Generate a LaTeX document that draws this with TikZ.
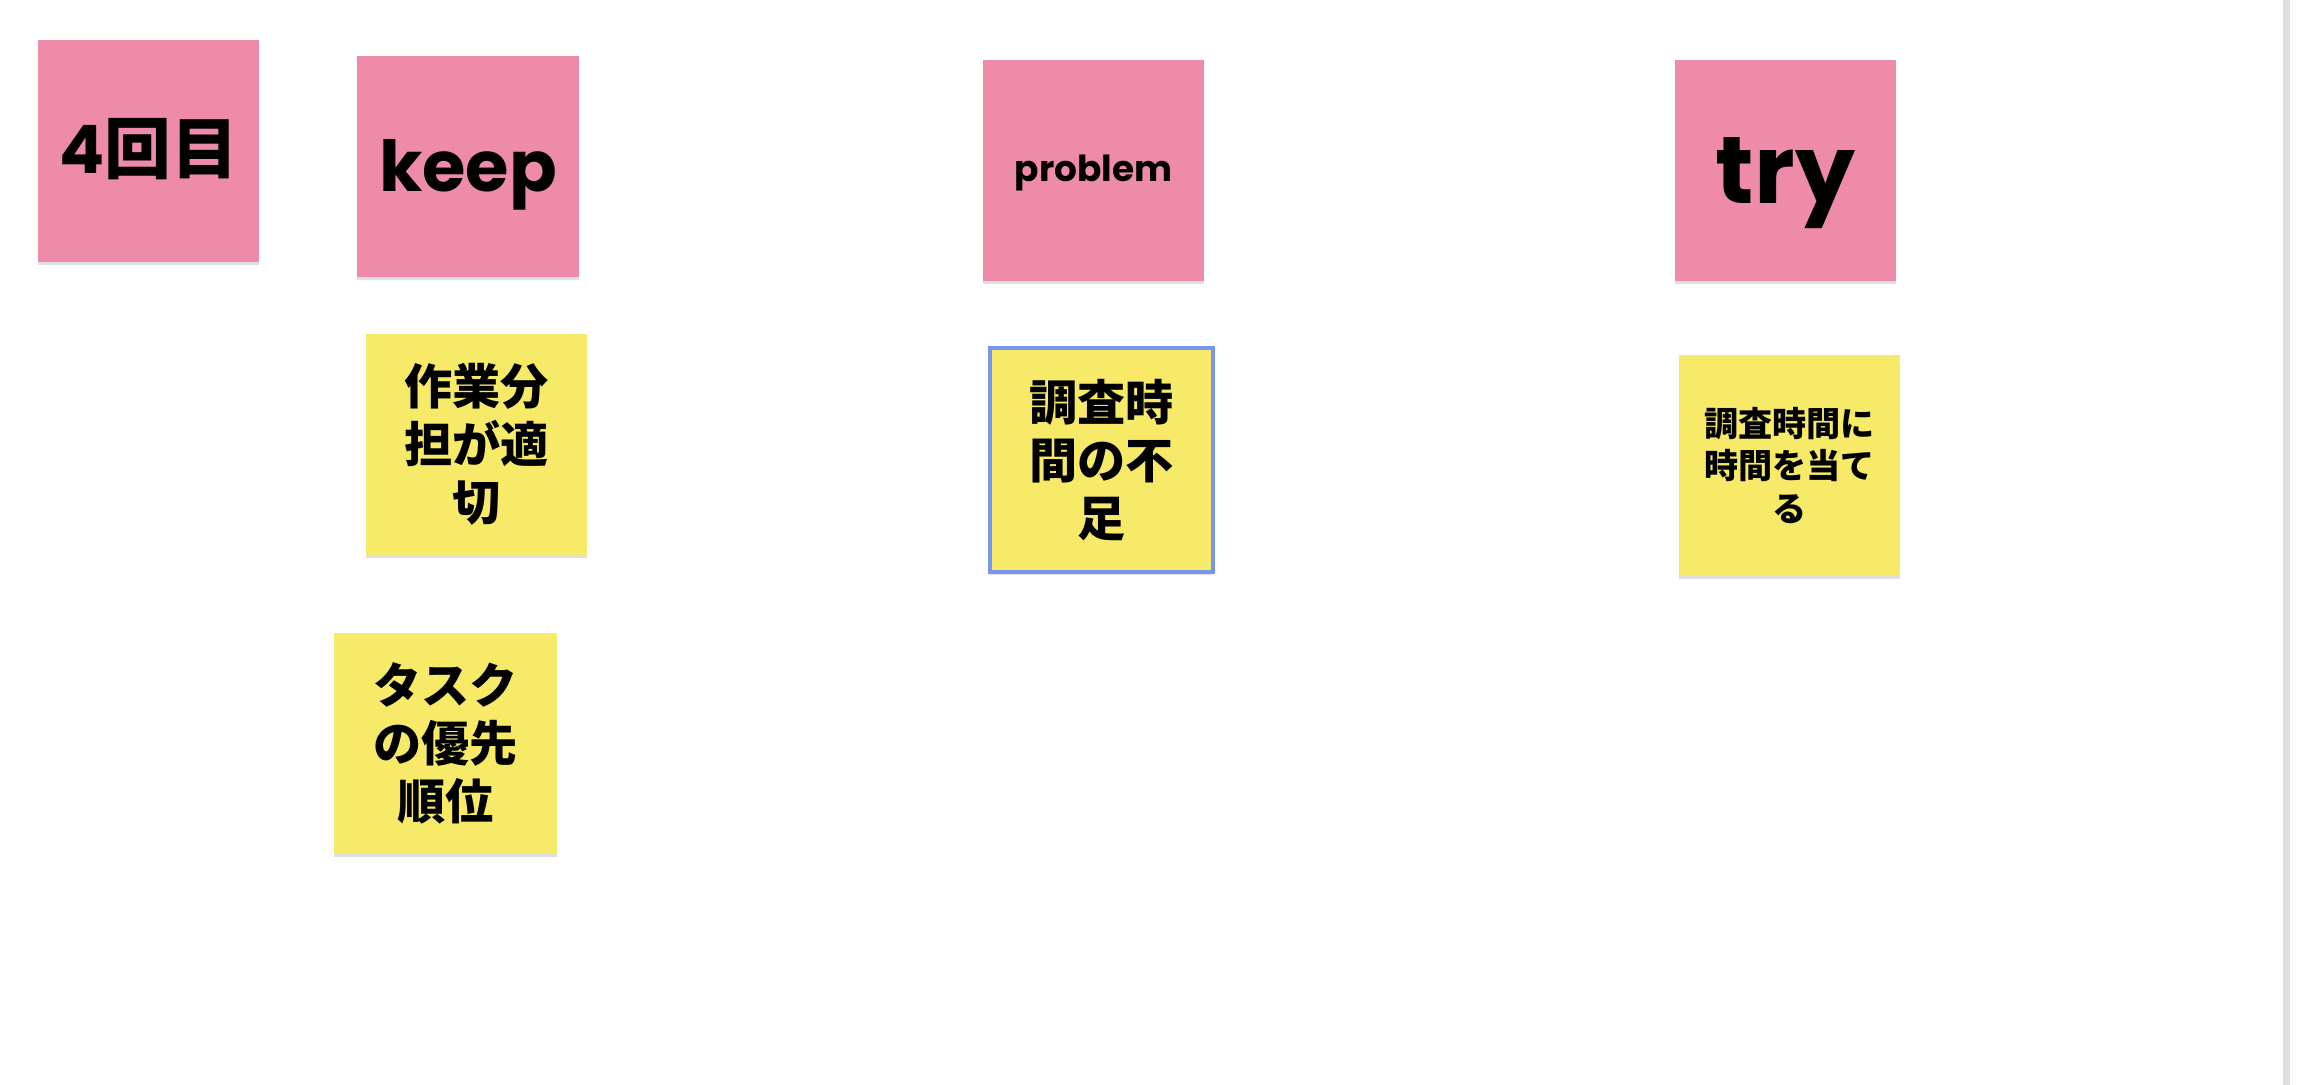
\documentclass[tikz,border=0pt]{standalone}
\usepackage{fontspec}
\usetikzlibrary{positioning,shadows}
\newfontfamily\jpfont{Noto Sans CJK JP}
\newfontfamily\popfont{Poppins}
\definecolor{notePink}{RGB}{238,139,168}
\definecolor{noteYellow}{RGB}{247,234,104}
\definecolor{noteBlue}{RGB}{118,150,240}
\definecolor{edgeGray}{RGB}{220,222,226}

\begin{document}
\begin{tikzpicture}[x=0.01cm, y=-0.01cm,
    note/.style={rectangle, inner sep=0pt, outer sep=0pt,
                 minimum width=22.1mm, minimum height=22.1mm, align=center,
                 drop shadow={shadow xshift=0pt, shadow yshift=-0.9pt, opacity=0.25}},
    head/.style={note, fill=notePink, text depth=0pt},
    card/.style={note, fill=noteYellow,
                 font=\jpfont\bfseries\fontsize{13.7}{16.5}\selectfont}
  ]
  \useasboundingbox (0,0) rectangle (2297,1085);
  \fill[edgeGray] (2283,0) rectangle (2290,1085);

  % Headers
  \node[head, text height=13pt] (round) at (148.5,151)
    {{\popfont\bfseries\fontsize{19}{19}\selectfont 4}{\jpfont\bfseries\fontsize{19}{19}\selectfont 回目}};
  \node[head, text height=14.5pt, font=\popfont\bfseries\fontsize{20}{20}\selectfont] (keep) at (468,166.5) {keep};
  \node[head, text height=6pt, font=\popfont\bfseries\fontsize{10.2}{10.2}\selectfont] (problem) at (1093.5,170.5) {problem};
  \node[head, text height=19pt, font=\popfont\bfseries\fontsize{27}{27}\selectfont] (try) at (1785.5,170.5) {try};

  % Keep
  \node[card] (share)    at (476.5,444.5) {作業分\\担が適\\切};
  \node[card, minimum width=22.3mm] (priority) at (445.5,743.5) {タスク\\の優先\\順位};

  % Problem
  \node[card, draw=noteBlue, line width=1pt, minimum width=22.3mm,
        minimum height=22.4mm] (shortage) at (1101.5,460) {調査時\\間の不\\足};

  % Try
  \node[card, font=\jpfont\bfseries\fontsize{9.7}{12}\selectfont] (plan) at (1789.5,465.5) {調査時間に\\時間を当て\\る};
\end{tikzpicture}
\end{document}
